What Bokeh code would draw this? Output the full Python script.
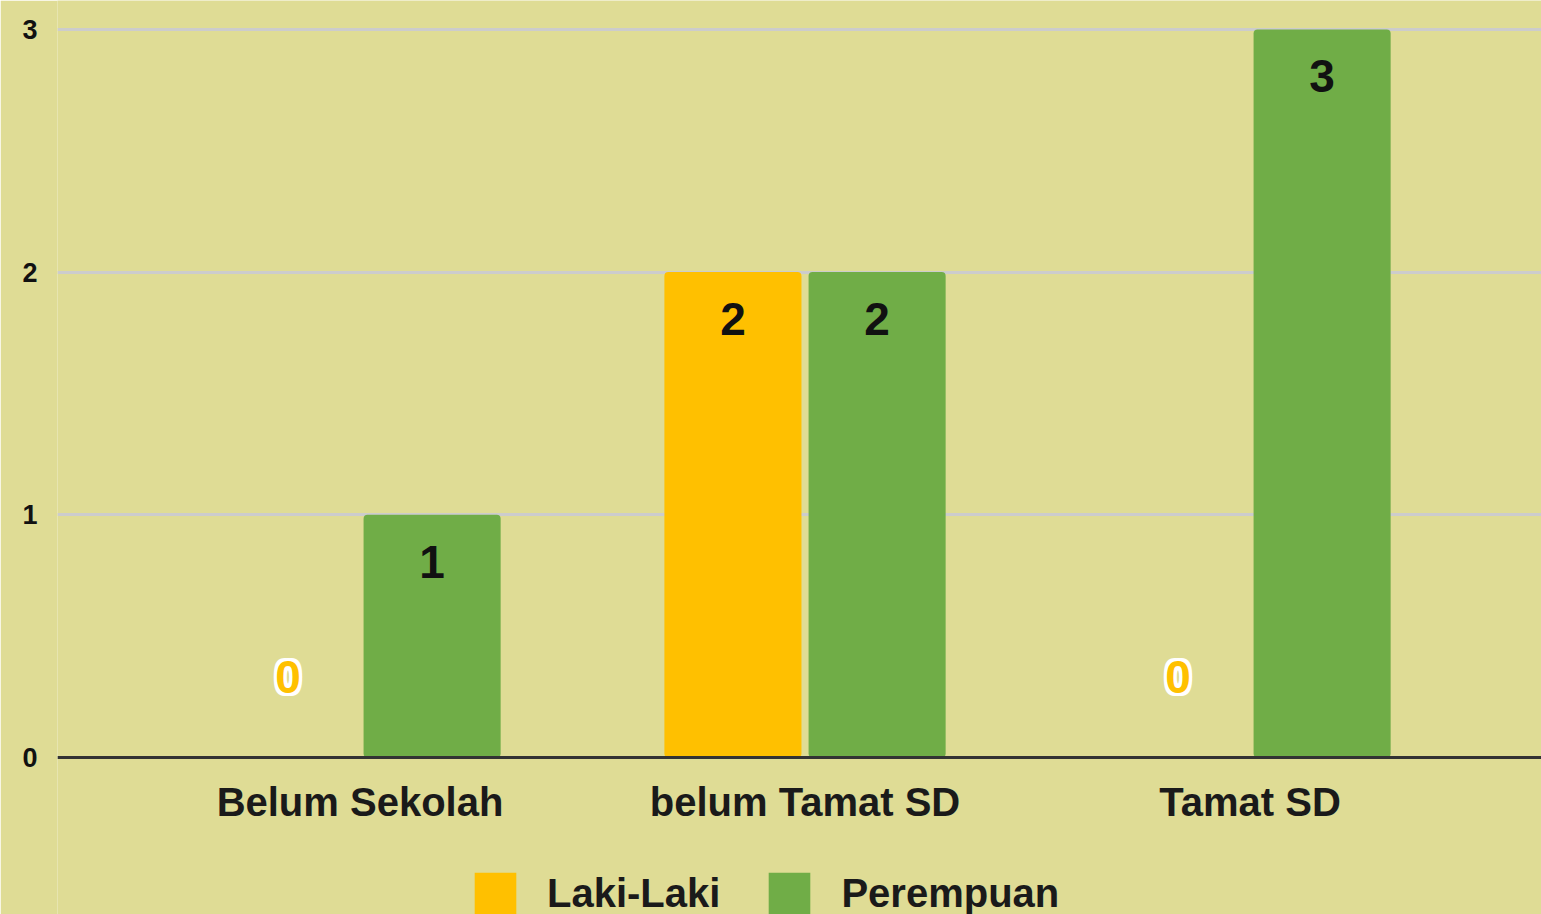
from bokeh.plotting import figure
from bokeh.models import ColumnDataSource, Range1d, FixedTicker, Legend, LegendItem
from bokeh.core.properties import value
from bokeh.embed import file_html
from bokeh.resources import INLINE

# ---- data ----
categories = ["Belum Sekolah", "belum Tamat SD", "Tamat SD"]
laki_laki = [0, 2, 0]
perempuan = [1, 2, 3]
series_names = ["Laki-Laki", "Perempuan"]
y_ticks = [0, 1, 2, 3]

# ---- style ----
BG = "#DFDC95"
COLORS = ["#FFC000", "#70AD47"]
SANS = "Liberation Sans"

p = figure(width=1541, height=914, output_backend="svg", toolbar_location=None,
           x_range=Range1d(-0.6798, 2.655), y_range=Range1d(-0.647, 3.119),
           min_border_left=57, min_border_right=0, min_border_top=0, min_border_bottom=0,
           background_fill_color=BG, border_fill_color=BG, outline_line_color=None)

xs = list(range(len(categories)))
bar_w = 0.308
offsets = [-0.162, 0.162]

renderers = []
for name, vals, col, off in zip(series_names, [laki_laki, perempuan], COLORS, offsets):
    src = ColumnDataSource(dict(x=[x + off for x in xs], top=vals))
    r = p.vbar(x="x", top="top", bottom=0, width=bar_w, source=src, fill_color=col,
               line_color=None, border_radius=4)
    renderers.append(r)

    nz = [(x + off, v) for x, v in zip(xs, vals) if v != 0]
    z = [(x + off, v) for x, v in zip(xs, vals) if v == 0]
    if nz:
        s1 = ColumnDataSource(dict(x=[a for a, _ in nz], y=[b for _, b in nz], t=[str(b) for _, b in nz]))
        p.text(x="x", y="y", text="t", source=s1, y_offset=47, text_align="center",
               text_baseline="middle", text_color="#111111", text_font=value(SANS),
               text_font_style="bold", text_font_size="46px")
    if z:
        s2 = ColumnDataSource(dict(x=[a for a, _ in z], y=[b for _, b in z], t=[str(b) for _, b in z]))
        # white halo
        for dx in (-3, 0, 3):
            for dy in (-3, 0, 3):
                if dx == 0 and dy == 0:
                    continue
                p.text(x="x", y="y", text="t", source=s2, x_offset=dx, y_offset=-80 + dy,
                       text_align="center", text_baseline="middle", text_color="white",
                       text_font=value(SANS), text_font_style="bold", text_font_size="46px")
        p.text(x="x", y="y", text="t", source=s2, y_offset=-80, text_align="center",
               text_baseline="middle", text_color=col,
               text_font=value(SANS), text_font_style="bold", text_font_size="46px")

# axes
p.yaxis.ticker = FixedTicker(ticks=y_ticks)
p.yaxis.axis_line_color = None
p.yaxis.major_tick_line_color = None
p.yaxis.minor_tick_line_color = None
p.yaxis.major_tick_out = 0
p.yaxis.major_label_text_font = SANS
p.yaxis.major_label_text_font_style = "bold"
p.yaxis.major_label_text_font_size = "27px"
p.yaxis.major_label_text_color = "#111111"
p.yaxis.major_label_standoff = 20

p.xaxis.fixed_location = 0
p.xaxis.ticker = FixedTicker(ticks=xs)
p.xaxis.major_label_overrides = {i: c for i, c in enumerate(categories)}
p.xaxis.axis_line_color = "#333333"
p.xaxis.axis_line_width = 3
p.xaxis.major_tick_line_color = None
p.xaxis.minor_tick_line_color = None
p.xaxis.major_tick_out = 0
p.xaxis.major_tick_in = 0
p.xaxis.major_label_text_font = SANS
p.xaxis.major_label_text_font_style = "bold"
p.xaxis.major_label_text_font_size = "40px"
p.xaxis.major_label_text_color = "#1a1a1a"
p.xaxis.major_label_standoff = 23

p.xgrid.grid_line_color = None
p.ygrid.ticker = FixedTicker(ticks=y_ticks)
p.ygrid.grid_line_color = "#CCCCCC"
p.ygrid.grid_line_width = 3

legend = Legend(items=[LegendItem(label=n, renderers=[r]) for n, r in zip(series_names, renderers)],
                orientation="horizontal", location=(469 - 57, -5),
                glyph_width=52, glyph_height=52, label_height=52, label_standoff=26,
                spacing=43, padding=0, margin=0, border_line_color=None,
                background_fill_alpha=0,
                label_text_font=SANS, label_text_font_style="bold",
                label_text_font_size="40px", label_text_color="#1a1a1a")
p.add_layout(legend, "center")

html = file_html(p, INLINE)
html = html.replace("<body>", '<body style="margin:0;overflow:hidden;background:%s;">' % BG, 1)
open("out.html", "w").write(html)
